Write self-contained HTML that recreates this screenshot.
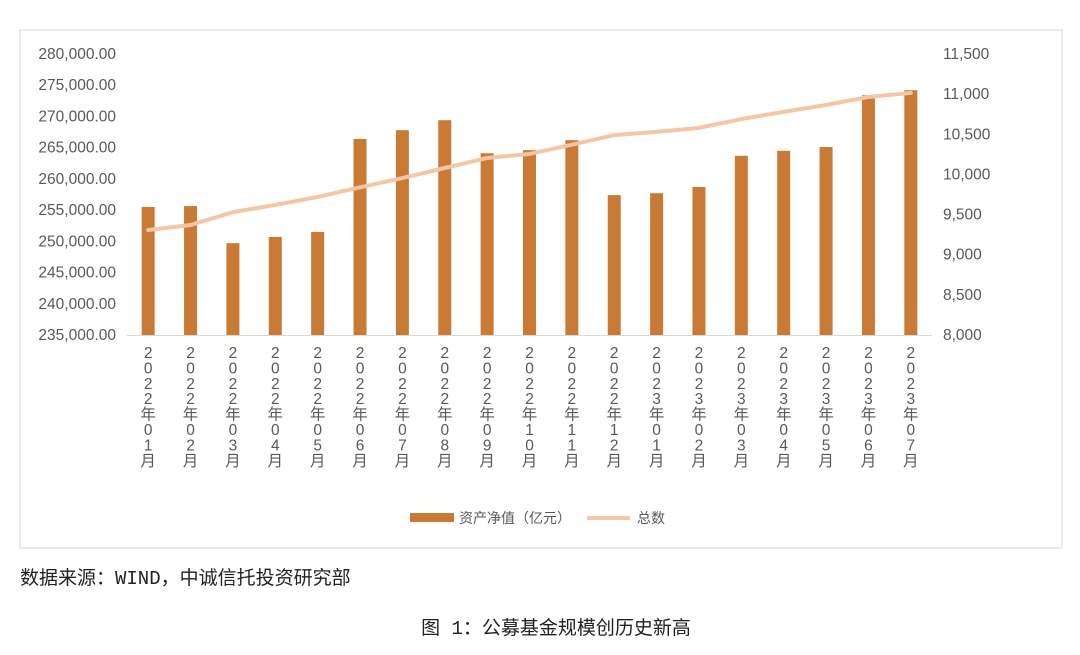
<!DOCTYPE html>
<html><head><meta charset="utf-8"><style>
body{margin:0;background:#fff;width:1080px;height:655px;overflow:hidden;font-family:"Liberation Sans","Noto Sans CJK SC",sans-serif}
svg{position:absolute;left:0;top:0}
.t{font-size:15.5px;fill:#595959}
</style></head><body>
<svg width="1080" height="655" id="chart">
<rect x="20" y="30" width="1042" height="518" fill="#fff" stroke="#d9d9d9"/>
<g id="bars"></g><g id="line"></g><g id="axes"></g>
<g>
<rect x="410" y="513" width="44" height="9" fill="#c97a34"/>
<text x="459" y="523" class="t" style="font-size:14px">资产净值（亿元）</text>
<line x1="587" y1="518" x2="630" y2="518" stroke="#f5c6a6" stroke-width="4"/>
<text x="637" y="523" class="t" style="font-size:14px">总数</text>
</g>
<text x="20" y="584" style="font-size:19px;fill:#222;font-family:'Liberation Mono','Noto Sans CJK SC',monospace">数据来源：WIND，中诚信托投资研究部</text>
<text x="556" y="634" text-anchor="middle" style="font-size:19px;fill:#222;font-family:'Liberation Mono','Noto Sans CJK SC',monospace">图 1：公募基金规模创历史新高</text>
</svg>
<script>
const categories=["2022年01月","2022年02月","2022年03月","2022年04月","2022年05月","2022年06月","2022年07月","2022年08月","2022年09月","2022年10月","2022年11月","2022年12月","2023年01月","2023年02月","2023年03月","2023年04月","2023年05月","2023年06月","2023年07月"];
const navValues=[255500,255650,249700,250700,251500,266400,267800,269400,264100,264600,266200,257400,257700,258700,263700,264500,265100,273400,274200];
const countValues=[9308,9370,9530,9620,9720,9840,9955,10080,10205,10255,10370,10490,10530,10580,10690,10780,10865,10965,11015];
const leftTicks=[235000,240000,245000,250000,255000,260000,265000,270000,275000,280000];
const rightTicks=[8000,8500,9000,9500,10000,10500,11000,11500];
const NS="http://www.w3.org/2000/svg";
const X0=127,X1=932,Y0=335,Y1=54;
const step=(X1-X0)/categories.length;
const xPos=i=>X0+step*(i+0.5);
const yL=v=>Y0-(v-235000)/45000*(Y0-Y1);
const yR=v=>Y0-(v-8000)/3500*(Y0-Y1);
function mk(t,a,p){const e=document.createElementNS(NS,t);for(const k in a)e.setAttribute(k,a[k]);p.appendChild(e);return e;}
const bars=document.getElementById('bars'),line=document.getElementById('line'),axes=document.getElementById('axes');
navValues.forEach((v,i)=>{const r=mk('rect',{x:xPos(i)-6.5,y:yL(v),width:13,height:Y0-yL(v),fill:'#c97a34'},bars);

});
const pl=mk('polyline',{points:countValues.map((v,i)=>xPos(i)+','+yR(v)).join(' '),fill:'none',stroke:'#f5c6a6','stroke-width':4,'stroke-linejoin':'round','stroke-linecap':'round'},line);


const ax=mk('line',{x1:X0,x2:X1,y1:Y0+0.5,y2:Y0+0.5,stroke:'#d9d9d9'},axes);


leftTicks.forEach(v=>{const t=mk('text',{x:116,y:yL(v)+5,'text-anchor':'end',class:'t'},axes);t.textContent=v.toLocaleString('en-US',{minimumFractionDigits:2});

});
rightTicks.forEach(v=>{const t=mk('text',{x:943,y:yR(v)+5,class:'t'},axes);t.textContent=v.toLocaleString('en-US');

});
categories.forEach((c,i)=>{const g=mk('g',{},axes);


[...c].forEach((ch,k)=>{const s=mk('text',{x:xPos(i),y:358+k*15.4,class:'t','text-anchor':'middle'},g);s.textContent=ch;});});
</script>
</body></html>
